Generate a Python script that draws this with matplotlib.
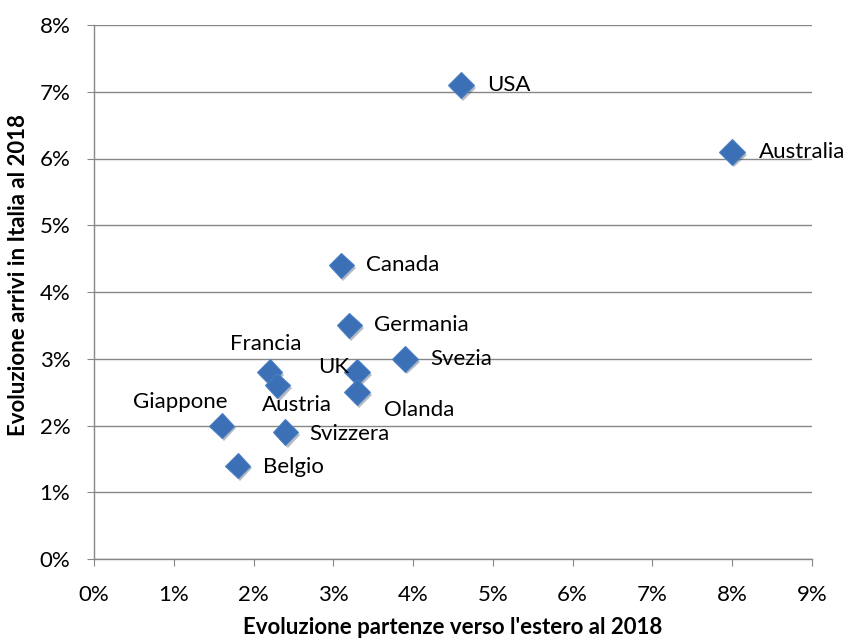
import matplotlib
matplotlib.use("Agg")
import matplotlib.pyplot as plt
import matplotlib.patheffects as pe
from matplotlib.ticker import FuncFormatter, MultipleLocator

plt.rcParams['font.family'] = ['Lato', 'DejaVu Sans']

countries = ["USA", "Australia", "Canada", "Germania", "Svezia", "UK", "Olanda",
             "Francia", "Austria", "Giappone", "Svizzera", "Belgio"]
partenze = [4.6, 8.0, 3.1, 3.2, 3.9, 3.3, 3.3, 2.2, 2.3, 1.6, 2.4, 1.8]
arrivi = [7.1, 6.1, 4.4, 3.5, 3.0, 2.8, 2.5, 2.8, 2.6, 2.0, 1.9, 1.4]

# label offsets in points (dx, dy) and horizontal alignment
label_pos = {
    "USA": (19, 0, "left"), "Australia": (19, 0, "left"), "Canada": (18, 0, "left"),
    "Germania": (18, 0, "left"), "Svezia": (18, 0, "left"), "UK": (-6, 4, "right"),
    "Olanda": (19, -13, "left"), "Francia": (-3, 20, "center"),
    "Austria": (14, -14, "center"), "Giappone": (-30, 17, "center"),
    "Svizzera": (17, -1, "left"), "Belgio": (18, -1, "left"),
}

FS = 16

fig = plt.figure(figsize=(8.48, 6.4), dpi=100)
ax = fig.add_axes([94/848, 1-559/640, (812-94)/848, (559-25)/640])

grid_c = "#878787"
ax.set_xlim(0, 9)
ax.set_ylim(0, 8)
ax.xaxis.set_major_locator(MultipleLocator(1))
ax.yaxis.set_major_locator(MultipleLocator(1))
pct = FuncFormatter(lambda v, p: f"{v:.0f}%")
ax.xaxis.set_major_formatter(pct)
ax.yaxis.set_major_formatter(pct)
ax.yaxis.grid(True, color=grid_c, linewidth=1)
ax.set_axisbelow(True)
for s in ["top", "right"]:
    ax.spines[s].set_visible(False)
for s in ["left", "bottom"]:
    ax.spines[s].set_color(grid_c)
    ax.spines[s].set_linewidth(1)
ax.tick_params(axis="both", direction="out", length=5, color=grid_c,
               labelsize=FS, labelcolor="#000000")
ax.tick_params(axis="x", pad=14)
ax.tick_params(axis="y", pad=12)

ax.plot(partenze, arrivi, linestyle="none", marker="D", markersize=13,
        markerfacecolor="#3B6FB6", markeredgecolor="#4A7FC4", markeredgewidth=0.8,
        zorder=3,
        path_effects=[pe.SimplePatchShadow(offset=(1.5, -2), alpha=0.3), pe.Normal()])

for name, x, y in zip(countries, partenze, arrivi):
    dx, dy, ha = label_pos[name]
    ax.annotate(name, (x, y), xytext=(dx, dy), textcoords="offset points",
                ha=ha, va="center", fontsize=FS, color="#000000", zorder=4)

fig.text(453/848, 1-627/640, "Evoluzione partenze verso l'estero al 2018",
         ha="center", va="center", fontsize=FS, fontweight="bold")
fig.text(19/848, 1-275/640, "Evoluzione arrivi in Italia al 2018",
         ha="center", va="center", rotation=90, fontsize=FS, fontweight="bold")

fig.savefig("out.png", dpi=100)
